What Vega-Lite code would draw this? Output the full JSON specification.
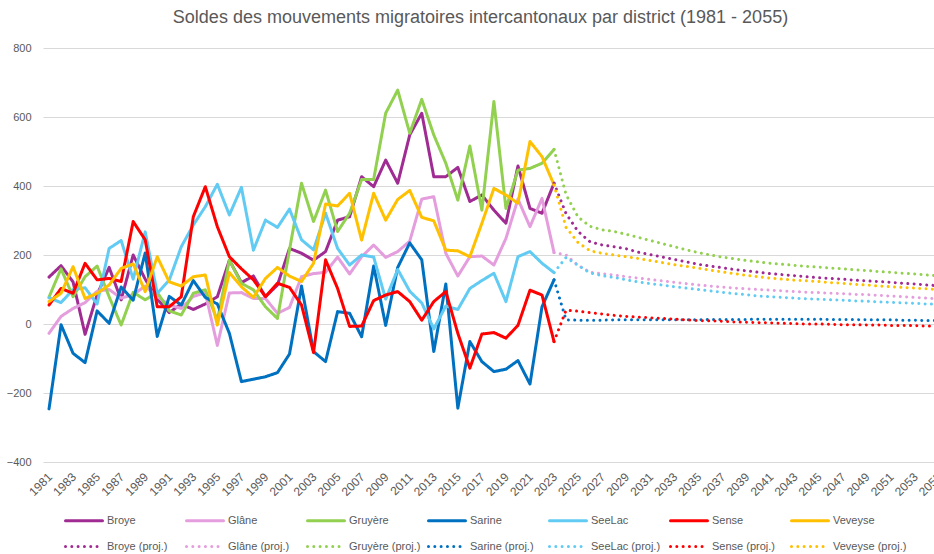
{
  "$schema": "https://vega.github.io/schema/vega-lite/v6.json",
  "autosize": {"type": "none"},
  "padding": {"left": 43, "top": 48, "right": -6, "bottom": 92},
  "width": 897,
  "height": 414,
  "background": "white",
  "title": {
    "text": "Soldes des mouvements migratoires intercantonaux par district (1981 - 2055)",
    "font": "Liberation Sans", "fontSize": 18, "fontWeight": "normal", "color": "#595959",
    "anchor": "middle", "dx": -11, "offset": 15
  },
  "data": {"values": [
    {"year":1981,"Broye":136,"Glâne":-27,"Gruyère":78,"Sarine":-246,"SeeLac":76,"Sense":55,"Veveyse":65},
    {"year":1982,"Broye":169,"Glâne":22,"Gruyère":160,"Sarine":-2,"SeeLac":62,"Sense":103,"Veveyse":89},
    {"year":1983,"Broye":122,"Glâne":45,"Gruyère":79,"Sarine":-85,"SeeLac":100,"Sense":89,"Veveyse":166},
    {"year":1984,"Broye":-30,"Glâne":62,"Gruyère":137,"Sarine":-112,"SeeLac":105,"Sense":176,"Veveyse":74},
    {"year":1985,"Broye":85,"Glâne":95,"Gruyère":168,"Sarine":38,"SeeLac":58,"Sense":128,"Veveyse":89},
    {"year":1986,"Broye":164,"Glâne":100,"Gruyère":79,"Sarine":2,"SeeLac":219,"Sense":132,"Veveyse":113},
    {"year":1987,"Broye":70,"Glâne":75,"Gruyère":-3,"Sarine":107,"SeeLac":242,"Sense":123,"Veveyse":161},
    {"year":1988,"Broye":200,"Glâne":85,"Gruyère":92,"Sarine":69,"SeeLac":130,"Sense":297,"Veveyse":174},
    {"year":1989,"Broye":130,"Glâne":110,"Gruyère":70,"Sarine":206,"SeeLac":267,"Sense":244,"Veveyse":94},
    {"year":1990,"Broye":72,"Glâne":80,"Gruyère":92,"Sarine":-36,"SeeLac":89,"Sense":50,"Veveyse":195},
    {"year":1991,"Broye":33,"Glâne":55,"Gruyère":38,"Sarine":80,"SeeLac":127,"Sense":50,"Veveyse":122},
    {"year":1992,"Broye":58,"Glâne":45,"Gruyère":26,"Sarine":55,"SeeLac":224,"Sense":79,"Veveyse":110},
    {"year":1993,"Broye":42,"Glâne":80,"Gruyère":89,"Sarine":126,"SeeLac":287,"Sense":311,"Veveyse":137},
    {"year":1994,"Broye":58,"Glâne":90,"Gruyère":99,"Sarine":77,"SeeLac":340,"Sense":398,"Veveyse":142},
    {"year":1995,"Broye":79,"Glâne":-62,"Gruyère":11,"Sarine":58,"SeeLac":405,"Sense":282,"Veveyse":-3},
    {"year":1996,"Broye":185,"Glâne":90,"Gruyère":185,"Sarine":-27,"SeeLac":316,"Sense":195,"Veveyse":149},
    {"year":1997,"Broye":120,"Glâne":91,"Gruyère":118,"Sarine":-167,"SeeLac":396,"Sense":160,"Veveyse":108},
    {"year":1998,"Broye":139,"Glâne":74,"Gruyère":99,"Sarine":-160,"SeeLac":214,"Sense":128,"Veveyse":77},
    {"year":1999,"Broye":79,"Glâne":74,"Gruyère":50,"Sarine":-153,"SeeLac":301,"Sense":79,"Veveyse":132},
    {"year":2000,"Broye":113,"Glâne":31,"Gruyère":16,"Sarine":-141,"SeeLac":280,"Sense":118,"Veveyse":164},
    {"year":2001,"Broye":219,"Glâne":48,"Gruyère":215,"Sarine":-87,"SeeLac":333,"Sense":106,"Veveyse":139},
    {"year":2002,"Broye":205,"Glâne":137,"Gruyère":408,"Sarine":110,"SeeLac":244,"Sense":55,"Veveyse":123},
    {"year":2003,"Broye":185,"Glâne":146,"Gruyère":297,"Sarine":-80,"SeeLac":215,"Sense":-83,"Veveyse":176},
    {"year":2004,"Broye":210,"Glâne":150,"Gruyère":388,"Sarine":-109,"SeeLac":321,"Sense":186,"Veveyse":348},
    {"year":2005,"Broye":301,"Glâne":194,"Gruyère":268,"Sarine":36,"SeeLac":219,"Sense":103,"Veveyse":342},
    {"year":2006,"Broye":311,"Glâne":145,"Gruyère":321,"Sarine":31,"SeeLac":171,"Sense":-7,"Veveyse":379},
    {"year":2007,"Broye":427,"Glâne":195,"Gruyère":419,"Sarine":-37,"SeeLac":200,"Sense":-6,"Veveyse":243},
    {"year":2008,"Broye":398,"Glâne":229,"Gruyère":419,"Sarine":168,"SeeLac":194,"Sense":68,"Veveyse":379},
    {"year":2009,"Broye":475,"Glâne":193,"Gruyère":611,"Sarine":-4,"SeeLac":72,"Sense":84,"Veveyse":301},
    {"year":2010,"Broye":408,"Glâne":210,"Gruyère":678,"Sarine":164,"SeeLac":158,"Sense":94,"Veveyse":361},
    {"year":2011,"Broye":548,"Glâne":240,"Gruyère":553,"Sarine":235,"SeeLac":95,"Sense":65,"Veveyse":387},
    {"year":2012,"Broye":611,"Glâne":362,"Gruyère":651,"Sarine":186,"SeeLac":61,"Sense":11,"Veveyse":309},
    {"year":2013,"Broye":427,"Glâne":369,"Gruyère":548,"Sarine":-80,"SeeLac":-14,"Sense":65,"Veveyse":299},
    {"year":2014,"Broye":427,"Glâne":205,"Gruyère":466,"Sarine":116,"SeeLac":52,"Sense":94,"Veveyse":214},
    {"year":2015,"Broye":454,"Glâne":139,"Gruyère":359,"Sarine":-244,"SeeLac":42,"Sense":-27,"Veveyse":212},
    {"year":2016,"Broye":355,"Glâne":195,"Gruyère":516,"Sarine":-51,"SeeLac":103,"Sense":-128,"Veveyse":195},
    {"year":2017,"Broye":374,"Glâne":197,"Gruyère":330,"Sarine":-109,"SeeLac":126,"Sense":-29,"Veveyse":292},
    {"year":2018,"Broye":330,"Glâne":171,"Gruyère":645,"Sarine":-138,"SeeLac":147,"Sense":-25,"Veveyse":393},
    {"year":2019,"Broye":292,"Glâne":248,"Gruyère":335,"Sarine":-131,"SeeLac":65,"Sense":-41,"Veveyse":374},
    {"year":2020,"Broye":458,"Glâne":362,"Gruyère":446,"Sarine":-106,"SeeLac":195,"Sense":-4,"Veveyse":350},
    {"year":2021,"Broye":335,"Glâne":282,"Gruyère":451,"Sarine":-174,"SeeLac":210,"Sense":98,"Veveyse":529},
    {"year":2022,"Broye":321,"Glâne":364,"Gruyère":466,"Sarine":50,"SeeLac":176,"Sense":84,"Veveyse":485},
    {"year":2023,"Broye":408,"Glâne":207,"Gruyère":506,"Sarine":128,"SeeLac":149,"Sense":-51,"Veveyse":403,
     "Broye_p":408,"Glâne_p":207,"Gruyère_p":506,"Sarine_p":128,"SeeLac_p":149,"Sense_p":-51,"Veveyse_p":403},
    {"year":2024,"Broye_p":320,"Glâne_p":200,"Gruyère_p":375,"Sarine_p":12,"SeeLac_p":193,"Sense_p":40,"Veveyse_p":280},
    {"year":2025,"Broye_p":268,"Glâne_p":170,"Gruyère_p":310,"Sarine_p":11,"SeeLac_p":170,"Sense_p":37,"Veveyse_p":236},
    {"year":2026,"Broye_p":238,"Glâne_p":150,"Gruyère_p":283,"Sarine_p":11,"SeeLac_p":148,"Sense_p":33,"Veveyse_p":212},
    {"year":2027,"Broye_p":229,"Glâne_p":146,"Gruyère_p":273,"Sarine_p":11,"SeeLac_p":140,"Sense_p":29,"Veveyse_p":205},
    {"year":2028,"Broye_p":224,"Glâne_p":142,"Gruyère_p":268,"Sarine_p":12,"SeeLac_p":135,"Sense_p":25,"Veveyse_p":200},
    {"year":2029,"Broye_p":218,"Glâne_p":137,"Gruyère_p":260,"Sarine_p":12,"SeeLac_p":128,"Sense_p":22,"Veveyse_p":195},
    {"year":2030,"Broye_p":208,"Glâne_p":133,"Gruyère_p":251,"Sarine_p":12,"SeeLac_p":122,"Sense_p":20,"Veveyse_p":190},
    {"year":2031,"Broye_p":201,"Glâne_p":129,"Gruyère_p":242,"Sarine_p":12,"SeeLac_p":117,"Sense_p":18,"Veveyse_p":184},
    {"year":2032,"Broye_p":194,"Glâne_p":125,"Gruyère_p":233,"Sarine_p":12,"SeeLac_p":113,"Sense_p":16,"Veveyse_p":178},
    {"year":2033,"Broye_p":187,"Glâne_p":121,"Gruyère_p":224,"Sarine_p":12,"SeeLac_p":108,"Sense_p":14,"Veveyse_p":172},
    {"year":2034,"Broye_p":180,"Glâne_p":117,"Gruyère_p":215,"Sarine_p":12,"SeeLac_p":104,"Sense_p":12,"Veveyse_p":167},
    {"year":2035,"Broye_p":173,"Glâne_p":113,"Gruyère_p":207,"Sarine_p":12,"SeeLac_p":100,"Sense_p":10,"Veveyse_p":162},
    {"year":2036,"Broye_p":168,"Glâne_p":110,"Gruyère_p":200,"Sarine_p":13,"SeeLac_p":96,"Sense_p":9,"Veveyse_p":156},
    {"year":2037,"Broye_p":163,"Glâne_p":107,"Gruyère_p":194,"Sarine_p":13,"SeeLac_p":92,"Sense_p":8,"Veveyse_p":151},
    {"year":2038,"Broye_p":158,"Glâne_p":104,"Gruyère_p":189,"Sarine_p":13,"SeeLac_p":88,"Sense_p":6,"Veveyse_p":146},
    {"year":2039,"Broye_p":154,"Glâne_p":102,"Gruyère_p":184,"Sarine_p":13,"SeeLac_p":85,"Sense_p":5,"Veveyse_p":141},
    {"year":2040,"Broye_p":150,"Glâne_p":100,"Gruyère_p":180,"Sarine_p":14,"SeeLac_p":81,"Sense_p":4,"Veveyse_p":137},
    {"year":2041,"Broye_p":146,"Glâne_p":98,"Gruyère_p":176,"Sarine_p":14,"SeeLac_p":79,"Sense_p":3,"Veveyse_p":133},
    {"year":2042,"Broye_p":143,"Glâne_p":96,"Gruyère_p":173,"Sarine_p":14,"SeeLac_p":77,"Sense_p":2,"Veveyse_p":130},
    {"year":2043,"Broye_p":140,"Glâne_p":94,"Gruyère_p":170,"Sarine_p":14,"SeeLac_p":75,"Sense_p":1,"Veveyse_p":127},
    {"year":2044,"Broye_p":137,"Glâne_p":92,"Gruyère_p":167,"Sarine_p":14,"SeeLac_p":73,"Sense_p":0,"Veveyse_p":125},
    {"year":2045,"Broye_p":134,"Glâne_p":91,"Gruyère_p":165,"Sarine_p":14,"SeeLac_p":72,"Sense_p":0,"Veveyse_p":123},
    {"year":2046,"Broye_p":132,"Glâne_p":89,"Gruyère_p":162,"Sarine_p":13,"SeeLac_p":70,"Sense_p":-1,"Veveyse_p":120},
    {"year":2047,"Broye_p":130,"Glâne_p":88,"Gruyère_p":160,"Sarine_p":13,"SeeLac_p":69,"Sense_p":-2,"Veveyse_p":118},
    {"year":2048,"Broye_p":127,"Glâne_p":86,"Gruyère_p":157,"Sarine_p":13,"SeeLac_p":67,"Sense_p":-2,"Veveyse_p":115},
    {"year":2049,"Broye_p":125,"Glâne_p":85,"Gruyère_p":155,"Sarine_p":12,"SeeLac_p":66,"Sense_p":-3,"Veveyse_p":113},
    {"year":2050,"Broye_p":123,"Glâne_p":83,"Gruyère_p":152,"Sarine_p":12,"SeeLac_p":64,"Sense_p":-3,"Veveyse_p":110},
    {"year":2051,"Broye_p":121,"Glâne_p":81,"Gruyère_p":150,"Sarine_p":12,"SeeLac_p":63,"Sense_p":-4,"Veveyse_p":108},
    {"year":2052,"Broye_p":118,"Glâne_p":79,"Gruyère_p":147,"Sarine_p":11,"SeeLac_p":61,"Sense_p":-4,"Veveyse_p":106},
    {"year":2053,"Broye_p":116,"Glâne_p":77,"Gruyère_p":145,"Sarine_p":11,"SeeLac_p":60,"Sense_p":-5,"Veveyse_p":104},
    {"year":2054,"Broye_p":113,"Glâne_p":75,"Gruyère_p":142,"Sarine_p":10,"SeeLac_p":58,"Sense_p":-6,"Veveyse_p":102},
    {"year":2055,"Broye_p":111,"Glâne_p":73,"Gruyère_p":140,"Sarine_p":10,"SeeLac_p":57,"Sense_p":-6,"Veveyse_p":100}
  ]},
  "transform": [
    {"fold": ["Broye","Glâne","Gruyère","Sarine","SeeLac","Sense","Veveyse","Broye_p","Glâne_p","Gruyère_p","Sarine_p","SeeLac_p","Sense_p","Veveyse_p"], "as": ["series","value"]},
    {"filter": "isValid(datum.value)"}
  ],
  "mark": {"type": "line", "strokeWidth": 3, "strokeCap": "round", "strokeJoin": "round"},
  "encoding": {
    "x": {
      "field": "year", "type": "quantitative",
      "scale": {"domain": [1980.5, 2055.1], "nice": false, "zero": false},
      "axis": {
        "title": null, "grid": false, "domain": false, "ticks": false, "tickSize": 0,
        "values": [1981,1983,1985,1987,1989,1991,1993,1995,1997,1999,2001,2003,2005,2007,2009,2011,2013,2015,2017,2019,2021,2023,2025,2027,2029,2031,2033,2035,2037,2039,2041,2043,2045,2047,2049,2051,2053,2055],
        "format": "d", "labelAngle": -45, "labelAlign": "right", "labelBaseline": "top",
        "labelPadding": 9, "labelOffset": -3, "labelFontSize": 12, "labelOverlap": false, "labelFlush": false, "labelBound": false
      }
    },
    "y": {
      "field": "value", "type": "quantitative",
      "scale": {"domain": [-400, 800], "nice": false},
      "axis": {
        "title": null, "values": [-400,-200,0,200,400,600,800], "format": "d",
        "domain": false, "ticks": false, "tickSize": 0, "labelPadding": 12,
        "grid": true, "gridColor": "#D9D9D9", "gridWidth": 1
      }
    },
    "color": {
      "field": "series", "type": "nominal",
      "scale": {
        "domain": ["Broye","Glâne","Gruyère","Sarine","SeeLac","Sense","Veveyse","Broye_p","Glâne_p","Gruyère_p","Sarine_p","SeeLac_p","Sense_p","Veveyse_p"],
        "range": ["#A02B93","#E59EDD","#92D050","#0070C0","#61CBF3","#FF0000","#FFC000","#A02B93","#E59EDD","#92D050","#0070C0","#61CBF3","#FF0000","#FFC000"]
      },
      "legend": {
        "title": null,
        "labelExpr": "replace(datum.label, '_p', ' (proj.)')",
        "encode": {"symbols": {"update": {"strokeCap": {"value": "round"}}}}
      }
    },
    "strokeDash": {
      "field": "series", "type": "nominal",
      "scale": {
        "domain": ["Broye","Glâne","Gruyère","Sarine","SeeLac","Sense","Veveyse","Broye_p","Glâne_p","Gruyère_p","Sarine_p","SeeLac_p","Sense_p","Veveyse_p"],
        "range": [[1,0],[1,0],[1,0],[1,0],[1,0],[1,0],[1,0],[0.01,6.3],[0.01,6.3],[0.01,6.3],[0.01,6.3],[0.01,6.3],[0.01,6.3],[0.01,6.3]]
      },
      "legend": {
        "title": null,
        "labelExpr": "replace(datum.label, '_p', ' (proj.)')",
        "encode": {"symbols": {"update": {"strokeCap": {"value": "round"}}}}
      }
    }
  },
  "config": {
    "view": {"stroke": null},
    "font": "Liberation Sans",
    "axis": {"labelFont": "Liberation Sans", "labelFontSize": 11, "labelColor": "#595959"},
    "legend": {
      "orient": "none", "legendX": 17, "legendY": 467, "direction": "horizontal",
      "columns": 7, "gridAlign": "all", "columnPadding": -2, "rowPadding": 13, "padding": 0,
      "symbolType": "M0,0H37", "symbolSize": 4, "symbolStrokeWidth": 3, "symbolFillColor": "transparent",
      "labelOffset": 36, "labelFont": "Liberation Sans", "labelFontSize": 11, "labelColor": "#595959",
      "labelLimit": 0
    }
  }
}
